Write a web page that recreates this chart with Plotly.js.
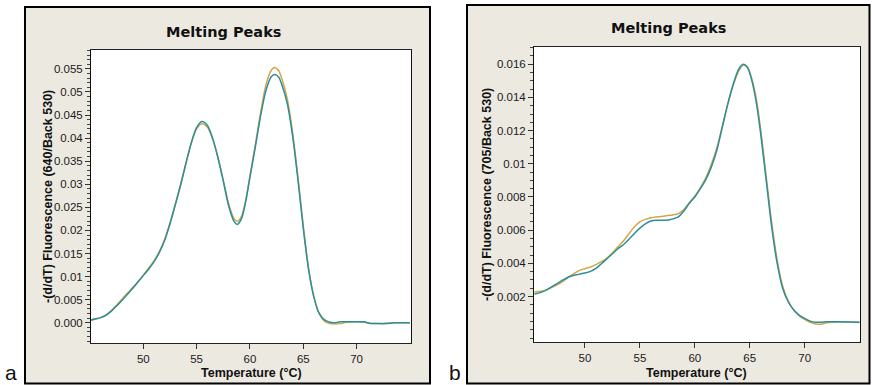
<!DOCTYPE html>
<html>
<head>
<meta charset="utf-8">
<script src="https://cdn.plot.ly/plotly-3.0.1.min.js"></script>
<style>html,body{margin:0;padding:0;background:#fff;}#chart{width:872px;height:385px;}</style>
</head>
<body>
<div id="chart"></div>
<script>
// ---- Panel a data (640/Back 530) ----
const tempA = [45.1,45.5,46.0,46.5,47.0,47.5,48.0,48.5,49.0,49.5,50.0,50.5,51.0,51.5,52.0,52.5,53.0,53.5,54.0,54.5,55.0,55.5,56.0,56.5,57.0,57.5,58.0,58.5,58.8,59.2,59.6,60.0,60.5,61.0,61.5,62.0,62.3,62.7,63.0,63.5,64.0,64.5,65.0,65.5,66.0,66.5,67.0,67.5,68.0,68.5,69.0,70.0,70.7,71.2,72.0,72.8,73.5,74.0,75.0];
const aOrange = [0.0006,0.0008,0.0011,0.0017,0.0026,0.0038,0.0051,0.0064,0.0076,0.0089,0.0103,0.0118,0.0134,0.0154,0.0180,0.0216,0.0257,0.0300,0.0346,0.0389,0.0420,0.0431,0.0424,0.0398,0.0358,0.0309,0.0258,0.0226,0.0220,0.0230,0.0265,0.0318,0.0385,0.0455,0.0515,0.0547,0.0553,0.0546,0.0528,0.0485,0.0412,0.0316,0.0210,0.0118,0.0056,0.0019,0.0003,-0.0002,-0.0003,-0.0002,0.0001,0.0002,0.0001,-0.0001,-0.0002,-0.0001,0.0,0.0,0.0];
const aTeal = [0.0006,0.0008,0.0011,0.0016,0.0025,0.0036,0.0048,0.0061,0.0074,0.0088,0.0102,0.0116,0.0132,0.0152,0.0178,0.0214,0.0255,0.0298,0.0345,0.0390,0.0423,0.0436,0.0428,0.0400,0.0358,0.0307,0.0254,0.0220,0.0213,0.0225,0.0262,0.0315,0.0380,0.0448,0.0503,0.0533,0.0538,0.0532,0.0515,0.0475,0.0405,0.0310,0.0205,0.0115,0.0055,0.0020,0.0006,0.0001,0.0000,0.0002,0.0002,0.0002,0.0002,-0.0001,-0.0002,-0.0002,0.0,0.0,0.0];
const aTickVals = [0,0.005,0.01,0.015,0.02,0.025,0.03,0.035,0.04,0.045,0.05,0.055];
const aTickText = ["0.000","0.005","0.01","0.015","0.02","0.025","0.03","0.035","0.04","0.045","0.05","0.055"];

// ---- Panel b data (705/Back 530) ----
const tempB = [45.4,46.0,46.5,47.0,47.5,48.0,48.5,49.0,49.5,50.0,50.5,51.0,51.5,52.0,52.5,53.0,53.5,54.0,54.5,55.0,55.5,56.0,56.5,57.0,57.5,58.0,58.5,59.0,59.5,60.0,60.5,61.0,61.5,62.0,62.5,63.0,63.5,64.0,64.4,64.8,65.2,65.6,66.0,66.5,67.0,67.5,68.0,68.5,69.0,69.5,70.0,70.5,71.0,71.5,72.0,73.0,74.0,75.0];
const bOrange = [0.00228,0.00232,0.00240,0.00255,0.00272,0.00292,0.00315,0.00338,0.00358,0.00368,0.00378,0.00392,0.00410,0.00432,0.00462,0.00500,0.00535,0.00578,0.00620,0.00650,0.00665,0.00675,0.00680,0.00682,0.00688,0.00692,0.00700,0.00725,0.00765,0.00805,0.00855,0.00915,0.00995,0.01095,0.01225,0.01360,0.01475,0.01560,0.01595,0.01582,0.01510,0.01390,0.01205,0.00925,0.00645,0.00420,0.00262,0.00172,0.00118,0.00085,0.00062,0.00045,0.00035,0.00033,0.00042,0.00047,0.00046,0.00044];
const bTeal = [0.00215,0.00225,0.00240,0.00260,0.00280,0.00300,0.00318,0.00328,0.00335,0.00342,0.00352,0.00370,0.00398,0.00428,0.00458,0.00488,0.00512,0.00545,0.00580,0.00612,0.00638,0.00655,0.00660,0.00660,0.00660,0.00668,0.00680,0.00715,0.00762,0.00800,0.00850,0.00905,0.00980,0.01080,0.01220,0.01360,0.01480,0.01570,0.01600,0.01580,0.01500,0.01370,0.01180,0.00900,0.00620,0.00400,0.00250,0.00170,0.00120,0.00088,0.00068,0.00052,0.00045,0.00045,0.00048,0.00048,0.00047,0.00045];
const bTickVals = [0.002,0.004,0.006,0.008,0.01,0.012,0.014,0.016];
const bTickText = ["0.002","0.004","0.006","0.008","0.01","0.012","0.014","0.016"];

const xTickVals = [50,55,60,65,70];
const xTickText = ["50","55","60","65","70"];

const W = 872, H = 385;
const px = v => v / W;
const py = v => 1 - v / H;

const ORANGE = '#D6A446';
const TEAL = '#2A8F9B';
const BEIGE = '#ECE9E1';
const tickFont = {family: 'Liberation Sans, Arial, sans-serif', size: 11.5, color: '#1a1a1a'};

function lineTrace(x, y, color, xa, ya) {
  return {x: x, y: y, type: 'scatter', mode: 'lines', xaxis: xa, yaxis: ya,
    line: {color: color, width: 1.5, shape: 'spline', smoothing: 0.8}, hoverinfo: 'skip', showlegend: false};
}

const data = [
  lineTrace(tempA, aOrange, ORANGE, 'x', 'y'),
  lineTrace(tempA, aTeal, TEAL, 'x', 'y'),
  lineTrace(tempB, bOrange, ORANGE, 'x2', 'y2'),
  lineTrace(tempB, bTeal, TEAL, 'x2', 'y2')
];

const domA = {x: [px(91), px(411)], y: [py(343), py(50)]};
const domB = {x: [px(534), px(860)], y: [py(342), py(47)]};

function xAxis(dom, range, anchor) {
  return {domain: dom, range: range, anchor: anchor, tickmode: 'array', tickvals: xTickVals, ticktext: xTickText,
    ticks: 'outside', ticklen: 5, tickcolor: '#333', tickwidth: 1, showline: true, linecolor: '#222', linewidth: 1,
    mirror: true, showgrid: false, zeroline: false, tickfont: tickFont, fixedrange: true};
}
function yAxis(dom, range, anchor, tv, tt, minorStep) {
  return {domain: dom, range: range, anchor: anchor, tickmode: 'array', tickvals: tv, ticktext: tt,
    ticks: 'outside', ticklen: 5, tickcolor: '#333', tickwidth: 1, showline: true, linecolor: '#111', linewidth: 1,
    mirror: true, showgrid: false, zeroline: false, tickfont: tickFont, fixedrange: true,
    minor: {tickmode: 'linear', tick0: 0, dtick: minorStep, ticks: 'outside', ticklen: 3, tickcolor: '#444', showgrid: false}};
}

const titleFont = {family: 'DejaVu Sans, Verdana, sans-serif', size: 14.5, color: '#111', weight: 'bold'};
const axTitleFont = {family: 'Liberation Sans, Arial, sans-serif', size: 12.5, color: '#111', weight: 'bold'};
const axTitleFontY = {family: 'Liberation Sans, Arial, sans-serif', size: 12.5, color: '#111', weight: 'bold'};
const labelFont = {family: 'Liberation Sans, Arial, sans-serif', size: 21, color: '#111'};

const layout = {
  width: W, height: H, margin: {l: 0, r: 0, t: 0, b: 0},
  paper_bgcolor: '#ffffff', plot_bgcolor: 'rgba(0,0,0,0)', showlegend: false,
  xaxis: xAxis(domA.x, [45.1, 75.1], 'y'),
  yaxis: yAxis(domA.y, [-0.0044, 0.0591], 'x', aTickVals, aTickText, 0.001),
  xaxis2: xAxis(domB.x, [45.36, 75.04], 'y2'),
  yaxis2: yAxis(domB.y, [-0.00074, 0.01704], 'x2', bTickVals, bTickText, 0.0005),
  shapes: [
    {type: 'rect', xref: 'paper', yref: 'paper', x0: px(25), x1: px(430), y0: py(383.5), y1: py(7), layer: 'below',
      fillcolor: BEIGE, line: {color: '#000', width: 2}},
    {type: 'rect', xref: 'paper', yref: 'paper', x0: px(467), x1: px(869.5), y0: py(383.5), y1: py(5), layer: 'below',
      fillcolor: BEIGE, line: {color: '#000', width: 2}},
    {type: 'rect', xref: 'paper', yref: 'paper', x0: domA.x[0], x1: domA.x[1], y0: domA.y[0], y1: domA.y[1], layer: 'below',
      fillcolor: '#ffffff', line: {width: 0}},
    {type: 'rect', xref: 'paper', yref: 'paper', x0: domB.x[0], x1: domB.x[1], y0: domB.y[0], y1: domB.y[1], layer: 'below',
      fillcolor: '#ffffff', line: {width: 0}}
  ],
  annotations: [
    {text: 'Melting Peaks', xref: 'paper', yref: 'paper', x: px(223), y: py(32), xanchor: 'center', yanchor: 'middle', showarrow: false, font: titleFont},
    {text: 'Melting Peaks', xref: 'paper', yref: 'paper', x: px(668), y: py(28), xanchor: 'center', yanchor: 'middle', showarrow: false, font: titleFont},
    {text: 'Temperature (°C)', xref: 'paper', yref: 'paper', x: px(251), y: py(372.5), xanchor: 'center', yanchor: 'middle', showarrow: false, font: axTitleFont},
    {text: 'Temperature (°C)', xref: 'paper', yref: 'paper', x: px(696), y: py(372.5), xanchor: 'center', yanchor: 'middle', showarrow: false, font: axTitleFont},
    {text: '-(d/dT) Fluorescence (640/Back 530)', xref: 'paper', yref: 'paper', x: px(48), y: py(197), xanchor: 'center', yanchor: 'middle', textangle: -90, showarrow: false, font: axTitleFontY},
    {text: '-(d/dT) Fluorescence (705/Back 530)', xref: 'paper', yref: 'paper', x: px(487), y: py(195), xanchor: 'center', yanchor: 'middle', textangle: -90, showarrow: false, font: axTitleFontY},
    {text: 'a', xref: 'paper', yref: 'paper', x: px(11), y: py(372), xanchor: 'center', yanchor: 'middle', showarrow: false, font: labelFont},
    {text: 'b', xref: 'paper', yref: 'paper', x: px(455), y: py(372), xanchor: 'center', yanchor: 'middle', showarrow: false, font: labelFont}
  ]
};

Plotly.newPlot('chart', data, layout, {staticPlot: true, displayModeBar: false});
</script>
</body>
</html>
